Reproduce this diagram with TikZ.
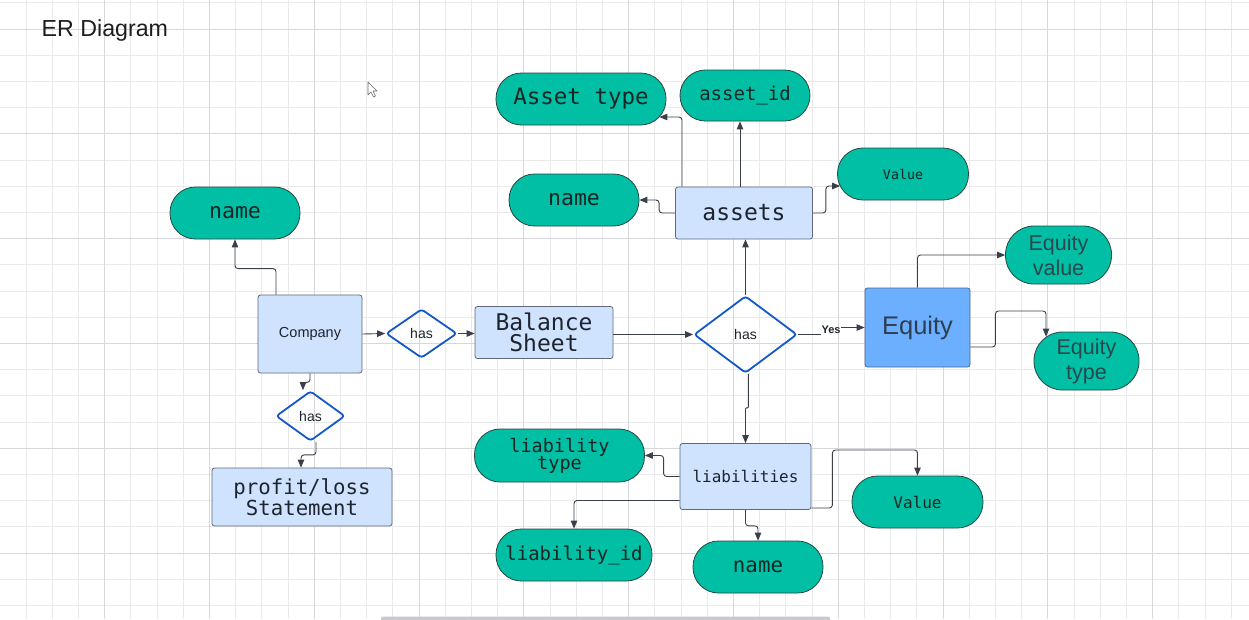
\documentclass[tikz,border=0pt]{standalone}
\usepackage{fontspec}
\setmainfont{Liberation Sans}
\newfontfamily\monofont{DejaVu Sans Mono}
\usetikzlibrary{arrows.meta,shapes.geometric,calc}
\definecolor{gridminor}{RGB}{234,234,236}
\definecolor{gridmajor}{RGB}{216,216,220}
\definecolor{entfill}{RGB}{207,227,255}
\definecolor{entborder}{RGB}{95,105,120}
\definecolor{eqfill}{RGB}{108,175,255}
\definecolor{eqborder}{RGB}{70,105,150}
\definecolor{relblue}{RGB}{20,88,200}
\definecolor{tealfill}{RGB}{0,191,165}
\definecolor{attrborder}{RGB}{40,70,66}
\definecolor{attrtxt}{RGB}{22,38,36}
\definecolor{sanstxt}{RGB}{40,72,78}
\definecolor{txt}{RGB}{30,36,45}
\definecolor{eqtxt}{RGB}{45,62,82}
\definecolor{conncol}{RGB}{58,64,74}
\definecolor{scrollcol}{RGB}{200,200,205}
\definecolor{titletxt}{RGB}{30,30,30}
\tikzset{
  gminor/.style={draw=gridminor, line width=0.7pt},
  gmajor/.style={draw=gridmajor, line width=0.8pt},
  ent/.style={draw=entborder, fill=entfill, rounded corners=2.5pt, line width=0.8pt, inner sep=0pt, text=txt, align=center},
  rel/.style={diamond, draw=relblue, line width=1.8pt, rounded corners=3pt, inner sep=0pt, text=txt, font=\fontsize{14}{16}\selectfont},
  attr/.style={draw=attrborder, fill=tealfill, line width=0.8pt, inner sep=0pt, text=attrtxt, align=center, minimum height=52pt, rounded corners=25.5pt},
  conn/.style={draw=conncol, line width=0.9pt, rounded corners=3pt},
  arr/.style={conn, -{Triangle[length=8pt,width=6.5pt]}},
}
\begin{document}
\begin{tikzpicture}[x=1pt,y=-1pt]
\useasboundingbox (0,0) rectangle (1249,619);
\fill[white] (0,0) rectangle (1249,619);
% grid
\foreach \i in {0,...,48} { \draw[gminor] ({-0.3+26.2*\i},0) -- ++(0,619); }
\foreach \j in {0,...,23} { \draw[gminor] (0,{2.8+26.2*\j}) -- ++(1249,0); }
\foreach \i in {0,...,12} { \draw[gmajor] ({-0.3+104.8*\i},0) -- ++(0,619); }
\foreach \j in {0,...,5} { \draw[gmajor] (0,{29+104.8*\j}) -- ++(1249,0); }

% title
\node[anchor=west, inner sep=0pt, text=titletxt, font=\fontsize{23.2}{26}\selectfont] (title) at (41.5,30.5) {ER Diagram};

% cursor
\draw[draw=gray!80!black, fill=white, line width=0.6pt, line join=round]
  (368,82) -- (368,95) -- (371,92) -- (373.5,97) -- (375.5,96) -- (373,91) -- (377,91) -- cycle;

% entities
\node[ent, minimum width=104pt, minimum height=78pt, font=\fontsize{14.5}{17}\selectfont] (company) at (310,334) {Company};
\node[ent, minimum width=138pt, minimum height=52pt, font=\monofont\fontsize{23}{21}\selectfont] (balance) at (544,332.5) {Balance\\Sheet};
\node[ent, minimum width=137pt, minimum height=52pt, font=\monofont\fontsize{23}{26}\selectfont] (assets) at (744,213) {assets};
\node[ent, minimum width=131pt, minimum height=66pt, font=\monofont\fontsize{16}{19}\selectfont] (liab) at (745.5,476.5) {liabilities};
\node[ent, minimum width=180pt, minimum height=58pt, font=\monofont\fontsize{20.7}{19}\selectfont] (profit) at (302,497) {profit/loss\\Statement};
\node[ent, draw=eqborder, fill=eqfill, text=eqtxt, minimum width=105pt, minimum height=79pt, font=\fontsize{25.5}{28}\selectfont] (equity) at (917.5,327.5) {Equity};

% relationships
\node[rel, minimum width=71pt, minimum height=49pt] (has1) at (421.5,333.5) {has};
\node[rel, minimum width=103pt, minimum height=77pt] (has2) at (745.5,334.5) {has};
\node[rel, minimum width=69pt, minimum height=50pt] (has3) at (310.5,416) {has};

% attributes
\node[attr, minimum width=130pt, font=\monofont\fontsize{21.5}{24}\selectfont] (cname) at (235,213) {name};
\node[attr, minimum width=170pt, font=\monofont\fontsize{22.5}{25}\selectfont] (atype) at (581,99) {Asset type};
\node[attr, minimum width=130pt, minimum height=51pt, font=\monofont\fontsize{19}{22}\selectfont] (aid) at (745,95.5) {asset\_id};
\node[attr, minimum width=130pt, font=\monofont\fontsize{21.5}{24}\selectfont] (aname) at (574,200) {name};
\node[attr, minimum width=131pt, font=\monofont\fontsize{13.3}{16}\selectfont] (avalue) at (903,174) {Value};
\node[attr, minimum width=106pt, minimum height=58pt, rounded corners=28.5pt, text=sanstxt, font=\fontsize{21.5}{25}\selectfont] (eqvalue) at (1058.5,255) {Equity\\value};
\node[attr, minimum width=105pt, minimum height=58pt, rounded corners=28.5pt, text=sanstxt, font=\fontsize{21.5}{25}\selectfont] (eqtype) at (1086.5,361) {Equity\\type};
\node[attr, minimum width=170pt, minimum height=53pt, font=\monofont\fontsize{18.5}{17}\selectfont] (ltype) at (559.5,455.5) {liability\\type};
\node[attr, minimum width=156pt, font=\monofont\fontsize{19}{22}\selectfont] (lid) at (574,555) {liability\_id};
\node[attr, minimum width=130pt, font=\monofont\fontsize{20.8}{24}\selectfont] (lname) at (758,567) {name};
\node[attr, minimum width=131pt, font=\monofont\fontsize{16}{19}\selectfont] (lvalue) at (917.5,502) {Value};

% Yes label
\node[inner sep=0pt, text=txt, font=\bfseries\fontsize{11}{13}\selectfont] (yes) at (831,329.5) {Yes};

% connectors
\draw[arr] ([xshift=-34pt]company.north) -- ++(0,-26) -| (cname.south);
\draw[arr] (company.east) -- (has1.west);
\draw[arr] (has1.east) -- (balance.west |- has1.east);
\draw[arr] (balance.east |- has2.west) -- (has2.west);
\draw[arr] (has2.north) -- (has2.north |- assets.south);
\draw[conn] (has2.east) -- (has2.east -| yes.west);
\draw[arr] (yes.east |- equity.west) -- (equity.west);
\draw[arr, rounded corners=0.8pt] ([xshift=2.8pt]has2.south) -- ++(0,34) -| (liab.north);
\draw[arr] (company.south) -- ++(0,9) -| ([xshift=-7.5pt]has3.north);
\draw[arr] ([xshift=5.5pt]has3.south) -- ++(0,13) -| ([xshift=-1pt]profit.north);

\draw[arr] ([xshift=-62pt]assets.north) |- ([xshift=-7pt,yshift=-18pt]atype.east);
\draw[arr] ([xshift=-4pt]assets.north) -- ([xshift=-4pt]assets.north |- aid.south);
\draw[arr] (assets.west) -- ++(-16,0) |- (aname.east);
\draw[arr] (assets.east) -- ++(13,0) |- ([xshift=3pt,yshift=-12pt]avalue.west);

\draw[arr] (equity.north) |- (eqvalue.west);
\draw[arr] ([yshift=-19.5pt]equity.east) -- ++(25,0) -- ++(0,-36) -| ([xshift=-40.5pt,yshift=-5pt]eqtype.north);

\draw[arr] (liab.west) -- ++(-16,0) |- (ltype.east);
\draw[arr] ([yshift=-24pt]liab.west) -| (lid.north);
\draw[arr] (liab.south) -- ++(0,16) -| (lname.north);
\draw[arr] ([yshift=-31.5pt]liab.east) -- ++(21,0) -- ++(0,-58) -| (lvalue.north);

% scrollbar
\fill[scrollcol, rounded corners=2pt] (381,616.5) rectangle (830,622);
\end{tikzpicture}
\end{document}
